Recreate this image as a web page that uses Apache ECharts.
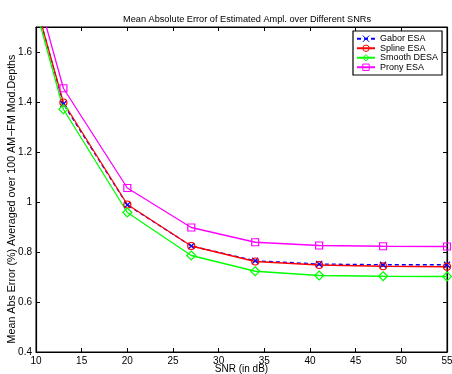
<!DOCTYPE html>
<html><head><meta charset="utf-8">
<script src="https://cdn.jsdelivr.net/npm/echarts@6/dist/echarts.min.js"></script>
<style>html,body{margin:0;padding:0;background:#fff}#c{width:452px;height:374px}</style>
</head><body><div id="c"></div>
<script>
var snr = [10, 13, 20, 27, 34, 41, 48, 55];
var gabor = [1.79, 1.392, 0.988, 0.824, 0.765, 0.752, 0.749, 0.749];
var spline = [1.79, 1.398, 0.99, 0.824, 0.762, 0.748, 0.743, 0.741];
var smooth = [1.77, 1.371, 0.958, 0.786, 0.723, 0.706, 0.703, 0.702];
var prony = [1.85, 1.455, 1.056, 0.898, 0.839, 0.826, 0.823, 0.822];
var xTicks = [10, 15, 20, 25, 30, 35, 40, 45, 50, 55];
var yTicks = [0.4, 0.6, 0.8, 1, 1.2, 1.4, 1.6];
var names = ['Gabor ESA', 'Spline ESA', 'Smooth DESA', 'Prony ESA'];
var colors = ['#0000ff', '#ff0000', '#00ff00', '#ff00ff'];

function pairs(xs, ys){ return xs.map(function(x,i){ return [x, ys[i]]; }); }
var FONT = "'Liberation Sans', Arial, Helvetica, sans-serif";
var chart = echarts.init(document.getElementById('c'), null, {renderer:'canvas'});
var xPath = 'path://M0,0L10,10M10,0L0,10';
function mk(name, data, color, symbol, size, dashed){
  return {
    name: name, type: 'line', data: data, symbol: symbol, symbolSize: size,
    showAllSymbol: true, clip: true, xAxisIndex: 0, yAxisIndex: 0,
    lineStyle: {color: color, width: 1.3, type: dashed ? [4,3] : 'solid'},
    itemStyle: {color: 'rgba(0,0,0,0)', borderColor: color, borderWidth: 1.2},
    emphasis: {disabled: true}, animation: false
  };
}
var option = {
  animation: false,
  title: {text: 'Mean Absolute Error of Estimated Ampl. over Different SNRs', left: 242, textAlign: 'center', top: 10,
    textStyle: {fontFamily: FONT, fontSize: 9.2, fontWeight: 'normal', color: '#000'}},
  grid: {left: 36, right: 5, top: 27, bottom: 22, show: true, borderColor: '#000', borderWidth: 1, backgroundColor: '#fff',
    outerBoundsMode: 'none', containLabel: false},
  legend: {
    orient: 'vertical', left: 353, top: 31,
    backgroundColor: '#fff', borderColor: '#000', borderWidth: 1.2,
    padding: [3, 4, 3, 3], itemGap: 0, itemWidth: 18, itemHeight: 8,
    textStyle: {fontFamily: FONT, fontSize: 9, color: '#000', lineHeight: 9.5},
    data: names.map(function(n, i){
      return {name: n, itemStyle: {color: 'rgba(0,0,0,0)', borderColor: colors[i], borderWidth: 1}};
    })
  },
  xAxis: [{
    type: 'value', min: 10, max: 55, interval: 5, position: 'bottom',
    name: 'SNR (in dB)', nameLocation: 'middle', nameGap: 12, nameMoveOverlap: false,
    nameTextStyle: {fontFamily: FONT, fontSize: 10, color: '#000'},
    axisLine: {show: true, lineStyle: {color: '#000', width: 1.2}},
    axisTick: {show: true, inside: true, length: 4, lineStyle: {color: '#000'}},
    axisLabel: {fontFamily: FONT, fontSize: 10, color: '#000', margin: 4, showMinLabel: true, showMaxLabel: true},
    splitLine: {show: false}
  }, {
    type: 'value', min: 10, max: 55, interval: 5, position: 'top',
    axisLine: {show: true, lineStyle: {color: '#000', width: 1.2}},
    axisTick: {show: true, inside: true, length: 4, lineStyle: {color: '#000'}},
    axisLabel: {show: false}, splitLine: {show: false}
  }],
  yAxis: [{
    type: 'value', min: 0.4, max: 1.7, interval: 0.2, position: 'left',
    axisLine: {show: true, lineStyle: {color: '#000', width: 1.2}},
    axisTick: {show: true, inside: true, length: 4, lineStyle: {color: '#000'}},
    axisLabel: {fontFamily: FONT, fontSize: 10, color: '#000', margin: 4, showMaxLabel: false,
      formatter: function(v){ var r = Math.round(v*10)/10; return yTicks.indexOf(r) >= 0 ? String(r) : ''; }},
    splitLine: {show: false}
  }, {
    type: 'value', min: 0.4, max: 1.7, interval: 0.2, position: 'right',
    axisLine: {show: true, lineStyle: {color: '#000', width: 1.2}},
    axisTick: {show: true, inside: true, length: 4, lineStyle: {color: '#000'}},
    axisLabel: {show: false}, splitLine: {show: false}
  }],
  graphic: [{
    type: 'text', x: 12, y: 199, rotation: Math.PI/2,
    style: {text: 'Mean Abs Error (%) Averaged over 100 AM\u2212FM Mod.Depths', fontFamily: FONT, fontSize: 10.7, fill: '#000',
      align: 'center', verticalAlign: 'middle', textAlign: 'center', textVerticalAlign: 'middle'}
  }],
  series: [
    mk(names[0], pairs(snr, gabor), colors[0], xPath, 6, true),
    mk(names[1], pairs(snr, spline), colors[1], 'circle', 7, false),
    mk(names[2], pairs(snr, smooth), colors[2], 'diamond', 9, false),
    mk(names[3], pairs(snr, prony), colors[3], 'rect', 7, false)
  ]
};
chart.setOption(option);
</script></body></html>
